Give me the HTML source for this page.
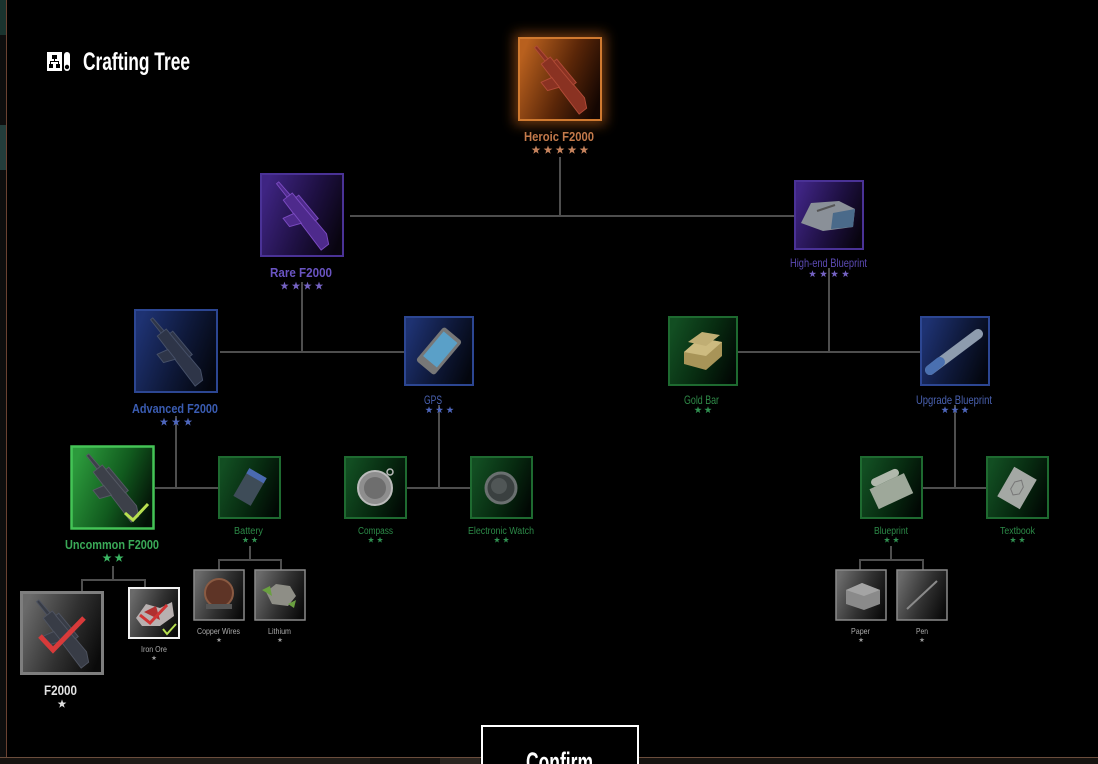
<!DOCTYPE html>
<html><head><meta charset="utf-8"><style>
html,body{margin:0;padding:0;background:#000;width:1098px;height:764px;overflow:hidden}
svg{display:block}
text{font-family:"Liberation Sans Narrow","Liberation Sans",sans-serif}
</style></head><body>
<svg width="1098" height="764" viewBox="0 0 1098 764" xmlns="http://www.w3.org/2000/svg">
<defs>
<linearGradient id="gOr" x1="0" y1="0.3" x2="1" y2="0.7"><stop offset="0" stop-color="#b8601e"/><stop offset="0.55" stop-color="#5a2608"/><stop offset="1" stop-color="#140602"/></linearGradient>
<linearGradient id="gPu" x1="0" y1="0.3" x2="1" y2="0.7"><stop offset="0" stop-color="#3e2482"/><stop offset="0.55" stop-color="#1e1042"/><stop offset="1" stop-color="#08040f"/></linearGradient>
<linearGradient id="gBl" x1="0" y1="0.3" x2="1" y2="0.7"><stop offset="0" stop-color="#1e3272"/><stop offset="0.55" stop-color="#0e1838"/><stop offset="1" stop-color="#03060e"/></linearGradient>
<linearGradient id="gGr" x1="0" y1="0.3" x2="1" y2="0.7"><stop offset="0" stop-color="#124e22"/><stop offset="0.55" stop-color="#072a10"/><stop offset="1" stop-color="#010804"/></linearGradient>
<linearGradient id="gGrB" x1="0" y1="0.3" x2="1" y2="0.7"><stop offset="0" stop-color="#2c9a3c"/><stop offset="0.55" stop-color="#115a1e"/><stop offset="1" stop-color="#031006"/></linearGradient>
<linearGradient id="gGy" x1="0" y1="0.3" x2="1" y2="0.7"><stop offset="0" stop-color="#6a6a6a"/><stop offset="0.55" stop-color="#303030"/><stop offset="1" stop-color="#0a0a0a"/></linearGradient>
<filter id="glow" x="-50%" y="-50%" width="200%" height="200%"><feGaussianBlur stdDeviation="6"/></filter>
<path id="st" d="M0,-4 L0.94,-1.29 L3.8,-1.24 L1.52,0.49 L2.35,3.24 L0,1.6 L-2.35,3.24 L-1.52,0.49 L-3.8,-1.24 L-0.94,-1.29 Z"/>
<g id="gun">
<path d="M-44,-2 L-26,-3 L-26,1 L-44,1 Z"/>
<path d="M-26,-6 L30,-8 L40,-3 L40,7 L-26,6 Z"/>
<path d="M-20,-10 L12,-11 L12,-7 L-20,-6 Z"/>
<path d="M-8,6 L5,6 L0,18 L-11,18 Z"/>
</g>
</defs>

<!-- left outside strip -->
<rect x="0" y="0" width="6" height="764" fill="#0e0e0e"/>
<rect x="0" y="0" width="6" height="35" fill="#1a332e"/>
<rect x="0" y="125" width="6" height="45" fill="#233d3b"/>
<rect x="6" y="0" width="1" height="758" fill="#6a4232"/>
<!-- bottom strip -->
<rect x="0" y="758" width="1098" height="6" fill="#16120f"/>
<rect x="440" y="758" width="40" height="6" fill="#2a241f"/>
<rect x="120" y="758" width="250" height="6" fill="#1f1b17"/>
<rect x="0" y="757" width="1098" height="1" fill="#6b4d3c"/>

<!-- Title -->
<rect x="47" y="52" width="15" height="19" fill="#fff"/>
<g fill="#000">
<rect x="52" y="55" width="5" height="4"/>
<rect x="54" y="59" width="1" height="3"/>
<rect x="50" y="61" width="9" height="1"/>
<rect x="50" y="61" width="1" height="3"/>
<rect x="58" y="61" width="1" height="3"/>
<rect x="49" y="64" width="4" height="4"/>
<rect x="56" y="64" width="4" height="4"/>
</g>
<rect x="64" y="52" width="6" height="19" rx="3" fill="#fff"/>
<circle cx="67" cy="67" r="2.2" fill="#000"/>
<text x="83" y="70" font-size="25" font-weight="bold" fill="#fff" textLength="107" lengthAdjust="spacingAndGlyphs">Crafting Tree</text>

<!-- connectors -->
<g stroke="#4e4e4e" stroke-width="2" fill="none">
<path d="M560 157 V217 M350 216 H795"/>
<path d="M302 282 V352 M220 352 H405"/>
<path d="M829 268 V352 M738 352 H921"/>
<path d="M176 416 V488 M155 488 H219"/>
<path d="M439 405 V488 M407 488 H471"/>
<path d="M955 405 V488 M923 488 H987"/>
<path d="M113 566 V580 M82 580 H145 M82 579 V592 M145 579 V588"/>
<path d="M250 546 V560 M219 560 H281 M219 559 V570 M281 559 V570"/>
<path d="M891 546 V560 M860 560 H923 M860 559 V570 M923 559 V570"/>
</g>

<!-- Heroic glow -->
<rect x="514" y="33" width="92" height="92" fill="#d06a1a" opacity="0.5" filter="url(#glow)"/>

<!-- boxes -->
<rect x="519" y="38" width="82" height="82" fill="url(#gOr)" stroke="#d07a30" stroke-width="2"/>
<rect x="261" y="174" width="82" height="82" fill="url(#gPu)" stroke="#4a3296" stroke-width="2"/>
<rect x="795" y="181" width="68" height="68" fill="url(#gPu)" stroke="#4a3296" stroke-width="2"/>
<rect x="135" y="310" width="82" height="82" fill="url(#gBl)" stroke="#2c4692" stroke-width="2"/>
<rect x="405" y="317" width="68" height="68" fill="url(#gBl)" stroke="#2c4692" stroke-width="2"/>
<rect x="669" y="317" width="68" height="68" fill="url(#gGr)" stroke="#1e6a30" stroke-width="2"/>
<rect x="921" y="317" width="68" height="68" fill="url(#gBl)" stroke="#2c4692" stroke-width="2"/>
<rect x="71.5" y="446.5" width="82" height="82" fill="url(#gGrB)" stroke="#44c456" stroke-width="2.5"/>
<rect x="219" y="457" width="61" height="61" fill="url(#gGr)" stroke="#1e6a30" stroke-width="2"/>
<rect x="345" y="457" width="61" height="61" fill="url(#gGr)" stroke="#1e6a30" stroke-width="2"/>
<rect x="471" y="457" width="61" height="61" fill="url(#gGr)" stroke="#1e6a30" stroke-width="2"/>
<rect x="861" y="457" width="61" height="61" fill="url(#gGr)" stroke="#1e6a30" stroke-width="2"/>
<rect x="987" y="457" width="61" height="61" fill="url(#gGr)" stroke="#1e6a30" stroke-width="2"/>
<rect x="21.5" y="592.5" width="81" height="81" fill="url(#gGy)" stroke="#7e7e7e" stroke-width="3"/>
<rect x="129" y="588" width="50" height="50" fill="url(#gGy)" stroke="#f2f2f2" stroke-width="2"/>
<rect x="194" y="570" width="50" height="50" fill="url(#gGy)" stroke="#8a8a8a" stroke-width="1.5"/>
<rect x="255" y="570" width="50" height="50" fill="url(#gGy)" stroke="#8a8a8a" stroke-width="1.5"/>
<rect x="836" y="570" width="50" height="50" fill="url(#gGy)" stroke="#8a8a8a" stroke-width="1.5"/>
<rect x="897" y="570" width="50" height="50" fill="url(#gGy)" stroke="#8a8a8a" stroke-width="1.5"/>

<!-- icons: guns -->
<use href="#gun" transform="translate(561,80) rotate(52) scale(0.95)" fill="#8a3222" stroke="#b04a36" stroke-width="1"/>
<use href="#gun" transform="translate(303,216) rotate(52) scale(0.95)" fill="#4e2a8c" stroke="#7a4ac0" stroke-width="1"/>
<use href="#gun" transform="translate(177,352) rotate(52) scale(0.95)" fill="#2e3548" stroke="#465068" stroke-width="1"/>
<use href="#gun" transform="translate(113,488) rotate(52) scale(0.95)" fill="#3c4049" stroke="#555a64" stroke-width="1"/>
<use href="#gun" transform="translate(63,634) rotate(52) scale(0.95)" fill="#383c46" stroke="#4e5360" stroke-width="1"/>

<!-- high-end blueprint -->
<g transform="translate(829,215)">
<path d="M-28,8 L-18,-12 L10,-14 L26,-6 L24,12 L-6,16 Z" fill="#8a9098"/>
<path d="M4,-2 L26,-6 L24,12 L2,14 Z" fill="#4a6a8a"/>
<path d="M-12,-4 L6,-10" stroke="#555" stroke-width="2"/>
</g>
<!-- GPS -->
<g transform="translate(439,351) rotate(40)">
<rect x="-12" y="-22" width="24" height="44" rx="3" fill="#777"/>
<rect x="-9" y="-18" width="18" height="32" fill="#5aa0c8"/>
</g>
<!-- gold bar -->
<g>
<path d="M684,352 L700,338 L722,342 L722,356 L706,370 L684,364 Z" fill="#a89458"/>
<path d="M684,352 L700,338 L722,342 L706,356 Z" fill="#cdbb80"/>
<path d="M688,342 L702,332 L720,335 L706,346 Z" fill="#c0ae74"/>
</g>
<!-- upgrade blueprint -->
<path d="M930,370 L978,334" stroke="#8e9cae" stroke-width="10" stroke-linecap="round"/>
<path d="M930,370 L940,362" stroke="#4a70b0" stroke-width="10" stroke-linecap="round"/>
<!-- battery -->
<g transform="translate(250,487) rotate(30)">
<rect x="-10" y="-16" width="20" height="32" fill="#3e4c58"/>
<rect x="-10" y="-16" width="20" height="6" fill="#4a6ab0"/>
</g>
<!-- compass -->
<circle cx="375" cy="488" r="17" fill="#8e8e8e" stroke="#bbb" stroke-width="2"/>
<circle cx="375" cy="488" r="11" fill="#6e6e6e"/>
<circle cx="390" cy="472" r="3" fill="none" stroke="#bbb" stroke-width="1.5"/>
<!-- watch -->
<circle cx="501" cy="488" r="15" fill="#3a4040" stroke="#6a7070" stroke-width="3"/>
<circle cx="499" cy="486" r="8" fill="#505656"/>
<!-- blueprint -->
<g transform="translate(891,488) rotate(-25)">
<rect x="-20" y="-8" width="38" height="22" fill="#9ea89a"/>
<rect x="-16" y="-16" width="30" height="8" rx="4" fill="#b0b8ac"/>
</g>
<!-- textbook -->
<g transform="translate(1017,488) rotate(30)">
<rect x="-13" y="-17" width="26" height="34" fill="#a4a8a4"/>
<path d="M-5,-4 L0,-9 L5,-4 L5,4 L0,8 L-5,4 Z" fill="none" stroke="#777" stroke-width="1"/>
</g>
<!-- copper wires -->
<circle cx="219" cy="593" r="14" fill="#5e3426" stroke="#8a5a42" stroke-width="2"/>
<rect x="206" y="604" width="26" height="5" fill="#555"/>
<!-- lithium -->
<path d="M266,592 L276,584 L290,586 L296,596 L288,606 L272,604 Z" fill="#8e8e86"/>
<path d="M262,590 L270,586 L272,596 Z M288,604 L296,600 L294,608 Z" fill="#6aa040"/>
<!-- iron ore -->
<path d="M136,618 L146,604 L160,608 L172,602 L174,616 L160,626 L142,626 Z" fill="#b8b0b0"/>
<path d="M144,612 L156,606 L160,620 Z" fill="#b03030"/>
<!-- paper -->
<path d="M846,590 L862,583 L880,590 L880,604 L864,610 L846,604 Z" fill="#8a8a8a"/>
<path d="M846,590 L862,583 L880,590 L864,596 Z" fill="#a4a4a4"/>
<!-- pen -->
<path d="M907,609 L937,581" stroke="#8a8a8a" stroke-width="2"/>

<!-- check marks -->
<path d="M125,513 L133,520 L148,504" fill="none" stroke="#b8e050" stroke-width="3"/>
<path d="M40,636 L53,650 L84,618" fill="none" stroke="#d83a3a" stroke-width="5"/>
<path d="M140,615 L150,623 L167,605" fill="none" stroke="#d03434" stroke-width="3"/>
<path d="M163,629 L167,634 L176,624" fill="none" stroke="#b8e050" stroke-width="2"/>

<!-- labels -->
<g text-anchor="middle">
<text x="559" y="141" font-size="13" font-weight="bold" fill="#c47a4a" textLength="70" lengthAdjust="spacingAndGlyphs">Heroic F2000</text>
<text x="301" y="277" font-size="13" font-weight="bold" fill="#6a54c2" textLength="62" lengthAdjust="spacingAndGlyphs">Rare F2000</text>
<text x="828.5" y="267" font-size="12" fill="#5c4ab4" textLength="77" lengthAdjust="spacingAndGlyphs">High-end Blueprint</text>
<text x="175" y="413" font-size="13" font-weight="bold" fill="#3a5cb2" textLength="86" lengthAdjust="spacingAndGlyphs">Advanced F2000</text>
<text x="433" y="404" font-size="12" fill="#4a62b2" textLength="18" lengthAdjust="spacingAndGlyphs">GPS</text>
<text x="701.5" y="404" font-size="12" fill="#2f8a48" textLength="35" lengthAdjust="spacingAndGlyphs">Gold Bar</text>
<text x="954" y="404" font-size="12" fill="#4a62b2" textLength="76" lengthAdjust="spacingAndGlyphs">Upgrade Blueprint</text>
<text x="112" y="549" font-size="13" font-weight="bold" fill="#3aaa58" textLength="94" lengthAdjust="spacingAndGlyphs">Uncommon F2000</text>
<text x="248.5" y="534" font-size="10" fill="#2c8a48" textLength="29" lengthAdjust="spacingAndGlyphs">Battery</text>
<text x="375.5" y="534" font-size="10" fill="#2c8a48" textLength="35" lengthAdjust="spacingAndGlyphs">Compass</text>
<text x="501" y="534" font-size="10" fill="#2c8a48" textLength="66" lengthAdjust="spacingAndGlyphs">Electronic Watch</text>
<text x="891" y="534" font-size="10" fill="#2c8a48" textLength="34" lengthAdjust="spacingAndGlyphs">Blueprint</text>
<text x="1017.5" y="534" font-size="10" fill="#2c8a48" textLength="35" lengthAdjust="spacingAndGlyphs">Textbook</text>
<text x="218.5" y="634" font-size="8.5" fill="#aaa" textLength="43" lengthAdjust="spacingAndGlyphs">Copper Wires</text>
<text x="279.5" y="634" font-size="8.5" fill="#aaa" textLength="23" lengthAdjust="spacingAndGlyphs">Lithium</text>
<text x="154" y="652" font-size="8.5" fill="#aaa" textLength="26" lengthAdjust="spacingAndGlyphs">Iron Ore</text>
<text x="860.5" y="634" font-size="8.5" fill="#aaa" textLength="19" lengthAdjust="spacingAndGlyphs">Paper</text>
<text x="922" y="634" font-size="8.5" fill="#aaa" textLength="12" lengthAdjust="spacingAndGlyphs">Pen</text>
<text x="60.5" y="695" font-size="14" font-weight="bold" fill="#e2e2e2" textLength="33" lengthAdjust="spacingAndGlyphs">F2000</text>
</g>

<!-- stars -->
<g fill="#c4825c">
<use href="#st" transform="translate(536,150) scale(1.15)"/>
<use href="#st" transform="translate(548,150) scale(1.15)"/>
<use href="#st" transform="translate(560,150) scale(1.15)"/>
<use href="#st" transform="translate(572,150) scale(1.15)"/>
<use href="#st" transform="translate(584,150) scale(1.15)"/>
</g>
<g fill="#7462c2">
<use href="#st" transform="translate(284.5,286) scale(1.1)"/>
<use href="#st" transform="translate(296,286) scale(1.1)"/>
<use href="#st" transform="translate(307.5,286) scale(1.1)"/>
<use href="#st" transform="translate(319,286) scale(1.1)"/>
<use href="#st" transform="translate(812.5,274) scale(0.95)"/>
<use href="#st" transform="translate(823.5,274) scale(0.95)"/>
<use href="#st" transform="translate(834.5,274) scale(0.95)"/>
<use href="#st" transform="translate(845.5,274) scale(0.95)"/>
</g>
<g fill="#4e66bc">
<use href="#st" transform="translate(164,422) scale(1.1)"/>
<use href="#st" transform="translate(176,422) scale(1.1)"/>
<use href="#st" transform="translate(188,422) scale(1.1)"/>
<use href="#st" transform="translate(429,410) scale(0.95)"/>
<use href="#st" transform="translate(439.5,410) scale(0.95)"/>
<use href="#st" transform="translate(450,410) scale(0.95)"/>
<use href="#st" transform="translate(945,410) scale(0.95)"/>
<use href="#st" transform="translate(955,410) scale(0.95)"/>
<use href="#st" transform="translate(965,410) scale(0.95)"/>
</g>
<g fill="#2f9050">
<use href="#st" transform="translate(698,410) scale(0.95)"/>
<use href="#st" transform="translate(708,410) scale(0.95)"/>
<use href="#st" transform="translate(245.5,540) scale(0.8)"/>
<use href="#st" transform="translate(254.5,540) scale(0.8)"/>
<use href="#st" transform="translate(371,540) scale(0.8)"/>
<use href="#st" transform="translate(380,540) scale(0.8)"/>
<use href="#st" transform="translate(497,540) scale(0.8)"/>
<use href="#st" transform="translate(506,540) scale(0.8)"/>
<use href="#st" transform="translate(887,540) scale(0.8)"/>
<use href="#st" transform="translate(896,540) scale(0.8)"/>
<use href="#st" transform="translate(1013,540) scale(0.8)"/>
<use href="#st" transform="translate(1022,540) scale(0.8)"/>
</g>
<g fill="#3ab462">
<use href="#st" transform="translate(107,558) scale(1.2)"/>
<use href="#st" transform="translate(119,558) scale(1.2)"/>
</g>
<g fill="#999">
<use href="#st" transform="translate(219,640) scale(0.65)"/>
<use href="#st" transform="translate(280,640) scale(0.65)"/>
<use href="#st" transform="translate(154,658) scale(0.65)"/>
<use href="#st" transform="translate(861,640) scale(0.65)"/>
<use href="#st" transform="translate(922,640) scale(0.65)"/>
</g>
<use href="#st" transform="translate(62,704) scale(1.15)" fill="#ddd"/>

<!-- confirm button -->
<rect x="482" y="726" width="156" height="60" fill="#000" stroke="#fff" stroke-width="2"/>
<text x="559.5" y="771" font-size="27" font-weight="bold" fill="#fff" text-anchor="middle" textLength="67" lengthAdjust="spacingAndGlyphs">Confirm</text>
</svg>
</body></html>
